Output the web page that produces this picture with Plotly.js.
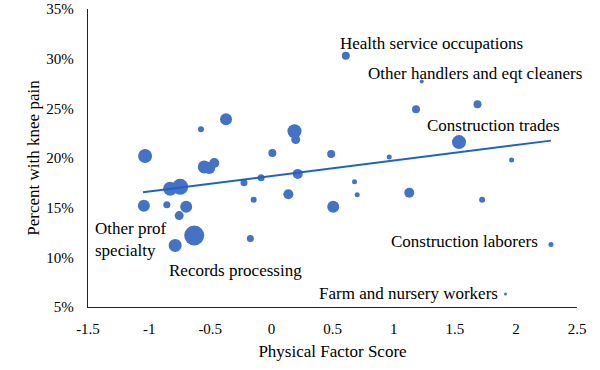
<!DOCTYPE html>
<html>
<head>
<meta charset="utf-8">
<script src="https://cdn.plot.ly/plotly-3.0.1.min.js"></script>
<style>html,body{margin:0;padding:0;background:#fff;}#chart{width:600px;height:370px;}</style>
</head>
<body>
<div id="chart"></div>
<script>
// Physical factor score (x) for each occupation group
const physScore = [-1.033, -0.576, -0.371, 0.189, 0.199, 0.008, 0.489, -0.549, -0.508, -0.467,
  -0.224, -0.084, 0.216, -0.828, -0.746, -1.043, -0.855, -0.697, -0.754, -0.631,
  -0.787, -0.145, -0.172, 0.139, 0.506, 0.680, 0.702, 1.128, 1.724, 1.965,
  2.287, 1.915, 0.609, 1.230, 1.183, 1.686, 1.535, 0.964];
// Percent with knee pain
const kneePain = [20.2, 22.9, 23.9, 22.7, 21.85, 20.5, 20.4, 19.1, 19.0, 19.5,
  17.5, 18.0, 18.4, 16.9, 17.1, 15.2, 15.3, 15.1, 14.2, 12.2,
  11.2, 15.8, 11.9, 16.35, 15.1, 17.6, 16.3, 16.5, 15.8, 19.8,
  11.3, 6.3, 30.3, 27.7, 24.9, 25.4, 21.6, 20.1];
// Relative group size (bubble diameter)
const groupSize = [14, 6, 12, 14, 9, 8, 8, 13, 12, 10,
  7, 7, 10, 14, 16, 12, 7, 12, 9, 20,
  13, 6, 7, 10, 12, 5, 5, 10, 6, 5,
  5, 3, 8, 4, 8, 8, 14, 5];
// Linear trendline endpoints
const trendX = [-1.05, 2.287];
const trendY = [16.55, 21.75];
// Axis tick labels
const xTickVals = [-1.5, -1, -0.5, 0, 0.5, 1, 1.5, 2, 2.5];
const xTickText = ["-1.5", "-1", "-0.5", "0", "0.5", "1", "1.5", "2", "2.5"];
const yTickVals = [5, 10, 15, 20, 25, 30, 35];
const yTickText = ["5%", "10%", "15%", "20%", "25%", "30%", "35%"];
// Labelled occupations
const labelText = ["Health service occupations", "Other handlers and eqt cleaners", "Construction trades",
  "Other prof<br>specialty", "Records processing", "Construction laborers", "Farm and nursery workers"];
const labelX = [0.541, 0.770, 1.254, -1.462, -0.855, 0.962, 0.375];
const labelY = [31.5, 28.5, 23.3, 11.75, 8.7, 11.6, 6.4];

const FONT = "Liberation Serif";

const traces = [
  {
    x: physScore, y: kneePain, mode: 'markers', type: 'scatter',
    marker: {size: groupSize, sizemode: 'diameter', color: '#4472C4', opacity: 1, line: {width: 0}},
    hoverinfo: 'x+y'
  },
  {
    x: trendX, y: trendY, mode: 'lines', type: 'scatter',
    line: {color: '#1F62C4', width: 2}, hoverinfo: 'skip'
  }
];

const annotations = labelText.map((t, i) => ({
  text: t, x: labelX[i], y: labelY[i], xref: 'x', yref: 'y',
  xanchor: 'left', yanchor: 'middle', align: 'left', showarrow: false,
  font: {family: FONT, size: 17, color: '#000'}
}));

const layout = {
  width: 600, height: 370,
  margin: {l: 88, r: 23, t: 9, b: 63},
  paper_bgcolor: '#fff', plot_bgcolor: '#fff',
  showlegend: false,
  font: {family: FONT, color: '#000'},
  xaxis: {
    range: [-1.5, 2.5], tickmode: 'array', tickvals: xTickVals, ticktext: xTickText,
    showgrid: false, zeroline: false,
    showline: true, linecolor: '#222', linewidth: 1.3, ticks: '',
    tickfont: {family: FONT, size: 15, color: '#000'}, ticklabelstandoff: 8,
    title: {text: 'Physical Factor Score', font: {family: FONT, size: 17, color: '#000'}, standoff: 8}
  },
  yaxis: {
    range: [5, 35], tickmode: 'array', tickvals: yTickVals, ticktext: yTickText,
    showgrid: false, zeroline: false,
    showline: true, linecolor: '#222', linewidth: 1.3, ticks: '',
    tickfont: {family: FONT, size: 15, color: '#000'}, ticklabelstandoff: 10,
    title: {text: 'Percent with knee pain', font: {family: FONT, size: 17, color: '#000'}, standoff: 2}
  },
  annotations: annotations
};

Plotly.newPlot('chart', traces, layout, {staticPlot: true, displayModeBar: false});
</script>
</body>
</html>
